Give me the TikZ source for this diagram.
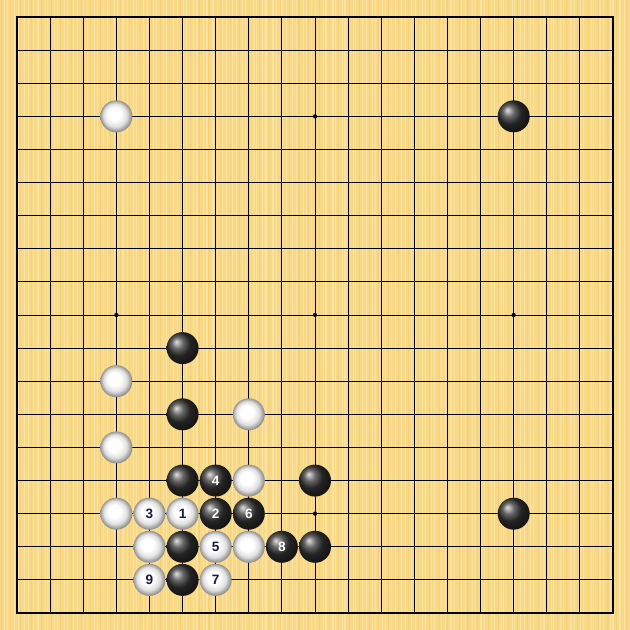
\documentclass[tikz,border=0pt]{standalone}
\usepackage{fontspec}
\setsansfont{Liberation Sans}
\usetikzlibrary{backgrounds}

\definecolor{board}{RGB}{248,217,135}
\definecolor{grain}{RGB}{253,232,170}
\definecolor{grainb}{RGB}{240,203,115}
\definecolor{ink}{RGB}{25,25,70}

% white stone shading: bright face, grey rim
\pgfdeclareradialshading{wstone}{\pgfpoint{-5bp}{5bp}}{%
  color(0bp)=(white); color(10bp)=(white); color(18bp)=(black!12);
  color(25bp)=(black!45); color(30bp)=(black!45)}

\begin{document}
\begin{tikzpicture}[x=0.6cm,y=-0.6cm,
    stone/.style={circle,inner sep=0pt,minimum size=0.58cm,
      font=\fontsize{7}{8}\selectfont\sffamily\bfseries},
    blackstone/.style={stone,shading=ball,ball color=black!80,text=white},
    whitestone/.style={stone,shading=wstone,text=ink}]

    % `hoshi' is used for the star points.
    \tikzstyle{hoshi} = [fill=black,circle,inner sep=0pt,minimum size=2.2pt]
    %
    \useasboundingbox (-0.5135,-0.5135) rectangle (18.5135,18.5135);

    \begin{pgfonlayer}{background}
        % Board and wood grain.
        \fill[board] (-0.5135,-0.5135) rectangle (18.5135,18.5135);
        \pgfmathsetseed{11}
        \foreach \k in {0,...,190} {
            \pgfmathsetmacro{\gx}{-0.5+\k*0.1+0.05*rnd}
            \pgfmathsetmacro{\gw}{0.2+0.6*rnd}
            \pgfmathtruncatemacro{\gc}{mod(\k,3)}
            \ifnum\gc=0
                \draw[grainb,line width=\gw pt,opacity=0.45] (\gx,-0.5135) -- (\gx,18.5135);
            \else
                \draw[grain,line width=\gw pt,opacity=0.7] (\gx,-0.5135) -- (\gx,18.5135);
            \fi
        }
    \end{pgfonlayer}

    % Draw lines.
    \foreach \i in {1,...,17} {
        \draw[line width=0.5pt] (\i,0) -- (\i,18) (0,\i) -- (18,\i);
    }
    \draw[line width=1.3pt] (0,0) rectangle (18,18);

    % Star points.
    \foreach \i in {3,9,15} {
        \foreach \j in {3,9,15} {
            \node[hoshi] (h\i\j) at (\i,\j) {};
        }
    }

    % Black stones.
    \foreach \i/\j/\n in {15/3/, 5/10/, 5/12/, 5/14/, 6/14/4, 9/14/,
                          6/15/2, 7/15/6, 15/15/, 5/16/, 8/16/8, 9/16/, 5/17/} {
        \node[blackstone] (b\i-\j) at (\i,\j) {\n};
    }

    % White stones.
    \foreach \i/\j/\n in {3/3/, 3/11/, 7/12/, 3/13/, 7/14/, 3/15/, 4/15/3,
                          5/15/1, 4/16/, 6/16/5, 7/16/, 4/17/9, 6/17/7} {
        \node[whitestone] (w\i-\j) at (\i,\j) {\n};
    }
    %
\end{tikzpicture}
\end{document}
